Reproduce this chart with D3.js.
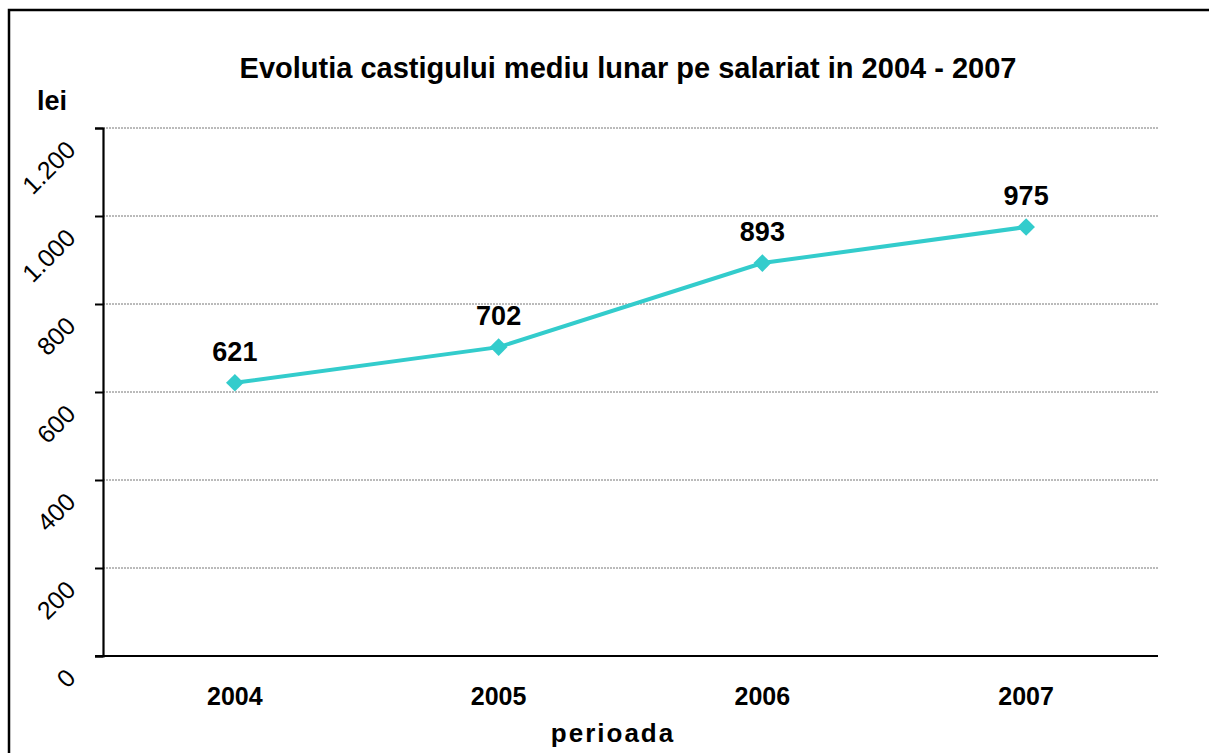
<!DOCTYPE html>
<meta charset="utf-8">
<style>
    body { margin: 0; background: #fff; }
    text { font-family: "Liberation Sans", Arial, sans-serif; }
</style>
<body>
<script src="https://cdn.jsdelivr.net/npm/d3@7"></script>
<script>

    var years = ["2004", "2005", "2006", "2007"];
    var salary = [621, 702, 893, 975];
    var yTicks = [0, 200, 400, 600, 800, 1000, 1200];

    var w = 1209, h = 753;
    var margin = {top: 128, right: 51, bottom: 97, left: 103};

    var svg = d3.select("body")
            .append("svg")
            .attr("width", w)
            .attr("height", h);

    // chart frame (runs off the right and bottom edge)
    svg.append("rect")
            .attr("x", 9)
            .attr("y", 10)
            .attr("width", w + 20)
            .attr("height", h + 20)
            .attr("fill", "none")
            .attr("stroke", "#000")
            .attr("stroke-width", 2.5);

    var x = d3.scaleBand()
            .domain(years)
            .range([margin.left, w - margin.right]);

    var y = d3.scaleLinear()
            .domain([0, 1200])
            .range([h - margin.bottom, margin.top]);

    // gridlines
    svg.append("g")
            .selectAll("line")
            .data(yTicks.filter(function(d) { return d > 0; }))
            .enter()
            .append("line")
            .attr("x1", margin.left)
            .attr("x2", w - margin.right)
            .attr("y1", function(d) { return y(d); })
            .attr("y2", function(d) { return y(d); })
            .attr("stroke", "#777")
            .attr("stroke-width", 1)
            .attr("stroke-dasharray", "2,1");

    // y axis
    var yAxis = d3.axisLeft(y)
            .tickValues(yTicks)
            .tickSize(8)
            .tickFormat(function(d) { return d3.format(",")(d).replace(/,/g, "."); });

    var gy = svg.append("g")
            .attr("transform", "translate(" + margin.left + ",0)")
            .call(yAxis);
    gy.select(".domain").attr("stroke", "#000").attr("stroke-width", 2.2);
    gy.selectAll(".tick line").attr("stroke", "#000").attr("stroke-width", 2);
    gy.selectAll(".tick text")
            .attr("x", 0)
            .attr("dy", 0)
            .attr("text-anchor", "end")
            .attr("transform", "translate(-26,23) rotate(-45)")
            .style("font-size", "25px")
            .style("font-family", "'Liberation Sans', Arial, sans-serif")
            .attr("fill", "#000");

    // x axis
    var xAxis = d3.axisBottom(x).tickSize(0).tickPadding(31);
    var gx = svg.append("g")
            .attr("transform", "translate(0," + (h - margin.bottom) + ")")
            .call(xAxis);
    gx.select(".domain")
            .attr("d", "M" + (margin.left - 8) + ",0H" + (w - margin.right))
            .attr("stroke", "#000")
            .attr("stroke-width", 2.2);
    gx.selectAll(".tick text")
            .style("font-size", "25px")
            .style("font-weight", "bold")
            .style("font-family", "'Liberation Sans', Arial, sans-serif")
            .attr("fill", "#000");

    // line + markers
    var line = d3.line()
            .x(function(d, i) { return x(years[i]) + x.bandwidth() / 2; })
            .y(function(d) { return y(d); });

    svg.append("path")
            .datum(salary)
            .attr("d", line)
            .attr("fill", "none")
            .attr("stroke", "#33cccc")
            .attr("stroke-width", 4);

    svg.selectAll(".marker")
            .data(salary)
            .enter()
            .append("path")
            .attr("class", "marker")
            .attr("d", d3.symbol().type(d3.symbolDiamond2).size(200))
            .attr("transform", function(d, i) {
                return "translate(" + (x(years[i]) + x.bandwidth() / 2) + "," + y(d) + ")";
            })
            .attr("fill", "#33cccc");

    // data labels
    svg.selectAll(".lbl")
            .data(salary)
            .enter()
            .append("text")
            .attr("class", "lbl")
            .attr("x", function(d, i) { return x(years[i]) + x.bandwidth() / 2; })
            .attr("y", function(d) { return y(d) - 22; })
            .attr("text-anchor", "middle")
            .style("font-size", "27px")
            .style("font-weight", "bold")
            .text(function(d) { return d; });

    // titles
    svg.append("text")
            .attr("x", 628)
            .attr("y", 78)
            .attr("text-anchor", "middle")
            .style("font-size", "29px")
            .style("font-weight", "bold")
            .text("Evolutia castigului mediu lunar pe salariat in 2004 - 2007");

    svg.append("text")
            .attr("x", 52)
            .attr("y", 110)
            .attr("text-anchor", "middle")
            .style("font-size", "27px")
            .style("font-weight", "bold")
            .text("lei");

    svg.append("text")
            .attr("x", 613)
            .attr("y", 742)
            .attr("text-anchor", "middle")
            .style("font-size", "26px")
            .style("font-weight", "bold")
            .style("letter-spacing", "2px")
            .text("perioada");

</script>
